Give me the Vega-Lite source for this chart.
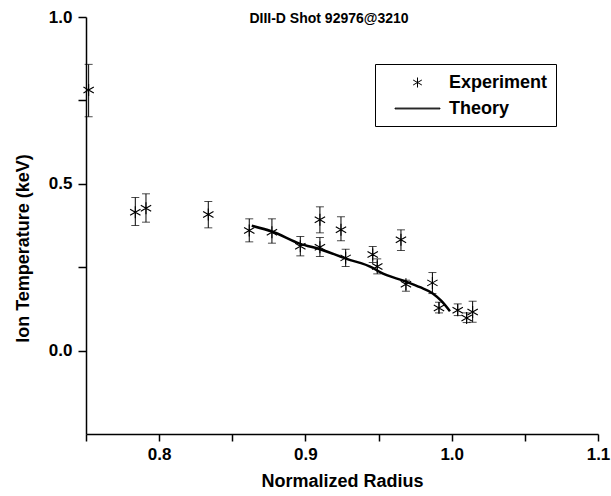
{
  "$schema": "https://vega.github.io/schema/vega-lite/v6.json",
  "width": 512,
  "height": 417,
  "autosize": "none",
  "padding": {"left": 86, "top": 17, "right": 13, "bottom": 62},
  "background": "white",
  "config": {
    "view": {"stroke": null},
    "font": "Liberation Sans",
    "axis": {
      "domainColor": "black",
      "domainWidth": 1.5,
      "tickColor": "black",
      "tickWidth": 1.5,
      "grid": false,
      "labelColor": "black",
      "labelFont": "Liberation Sans",
      "labelFontWeight": "bold",
      "labelFontSize": 17,
      "titleColor": "black",
      "titleFont": "Liberation Sans",
      "titleFontWeight": "bold",
      "titleFontSize": 18
    }
  },
  "title": {
    "text": "DIII-D Shot 92976@3210",
    "font": "Liberation Sans",
    "fontSize": 14,
    "fontWeight": "bold",
    "color": "black",
    "anchor": "middle",
    "offset": -18,
    "dx": -13
  },
  "datasets": {
    "exp": [
      {"r": 0.7518, "t": 0.781, "lo": 0.701, "hi": 0.858},
      {"r": 0.7837, "t": 0.415, "lo": 0.375, "hi": 0.459},
      {"r": 0.7910, "t": 0.427, "lo": 0.385, "hi": 0.470},
      {"r": 0.8336, "t": 0.408, "lo": 0.368, "hi": 0.447},
      {"r": 0.8616, "t": 0.360, "lo": 0.326, "hi": 0.395},
      {"r": 0.8771, "t": 0.355, "lo": 0.322, "hi": 0.395},
      {"r": 0.8965, "t": 0.313, "lo": 0.284, "hi": 0.342},
      {"r": 0.9099, "t": 0.392, "lo": 0.353, "hi": 0.431},
      {"r": 0.9099, "t": 0.310, "lo": 0.282, "hi": 0.339},
      {"r": 0.9243, "t": 0.362, "lo": 0.329, "hi": 0.401},
      {"r": 0.9275, "t": 0.278, "lo": 0.252, "hi": 0.304},
      {"r": 0.9460, "t": 0.288, "lo": 0.264, "hi": 0.312},
      {"r": 0.9491, "t": 0.252, "lo": 0.230, "hi": 0.275},
      {"r": 0.9653, "t": 0.332, "lo": 0.300, "hi": 0.362},
      {"r": 0.9687, "t": 0.199, "lo": 0.178, "hi": 0.211},
      {"r": 0.9868, "t": 0.203, "lo": 0.171, "hi": 0.234},
      {"r": 0.9913, "t": 0.128, "lo": 0.113, "hi": 0.145},
      {"r": 1.0041, "t": 0.121, "lo": 0.105, "hi": 0.140},
      {"r": 1.0102, "t": 0.098, "lo": 0.084, "hi": 0.113},
      {"r": 1.0143, "t": 0.116, "lo": 0.085, "hi": 0.148}
    ],
    "theory": [
      {"r": 0.8633, "t": 0.374},
      {"r": 0.8771, "t": 0.357},
      {"r": 0.8965, "t": 0.320},
      {"r": 0.9099, "t": 0.304},
      {"r": 0.9282, "t": 0.275},
      {"r": 0.9460, "t": 0.248},
      {"r": 0.9510, "t": 0.235},
      {"r": 0.9687, "t": 0.207},
      {"r": 0.9783, "t": 0.190},
      {"r": 0.9868, "t": 0.172},
      {"r": 0.9931, "t": 0.148},
      {"r": 0.9988, "t": 0.118}
    ]
  },
  "encoding": {
    "x": {
      "field": "r",
      "type": "quantitative",
      "scale": {"domain": [0.75, 1.1], "nice": false, "zero": false},
      "axis": {
        "title": "Normalized Radius",
        "values": [0.75, 0.8, 0.85, 0.9, 0.95, 1.0, 1.05, 1.1],
        "labelExpr": "round(datum.value*100) % 10 === 0 && datum.value > 0.76 ? format(datum.value, '.1f') : ''",
        "tickSize": 7,
        "labelPadding": 5,
        "titlePadding": 10,
        "labelFlush": false,
        "labelOverlap": false
      }
    },
    "y": {
      "field": "t",
      "type": "quantitative",
      "scale": {"domain": [-0.25, 1.0], "nice": false, "zero": false},
      "axis": {
        "title": "Ion Temperature (keV)",
        "values": [0, 0.25, 0.5, 0.75, 1.0],
        "labelExpr": "round(datum.value*100) % 50 === 0 ? format(datum.value, '.1f') : ''",
        "tickSize": 8,
        "labelPadding": 6,
        "titleX": -63,
        "titleY": 231,
        "titleAngle": -90,
        "titleAlign": "center",
        "titleBaseline": "middle",
        "labelFlush": false,
        "labelOverlap": false
      }
    }
  },
  "layer": [
    {
      "data": {"name": "exp"},
      "mark": {"type": "rule", "color": "black", "strokeWidth": 1},
      "encoding": {"y": {"field": "lo", "type": "quantitative"}, "y2": {"field": "hi"}}
    },
    {
      "data": {"name": "exp"},
      "mark": {"type": "tick", "orient": "horizontal", "color": "black", "size": 8, "thickness": 1},
      "encoding": {"y": {"field": "lo", "type": "quantitative"}}
    },
    {
      "data": {"name": "exp"},
      "mark": {"type": "tick", "orient": "horizontal", "color": "black", "size": 8, "thickness": 1},
      "encoding": {"y": {"field": "hi", "type": "quantitative"}}
    },
    {
      "data": {"name": "theory"},
      "mark": {"type": "line", "color": "black", "strokeWidth": 2.5, "interpolate": "monotone"},
      "encoding": {}
    },
    {
      "data": {"name": "exp"},
      "mark": {"type": "point", "filled": false, "stroke": "black", "strokeWidth": 1.1, "size": 576, "opacity": 1},
      "encoding": {
        "shape": {
          "datum": "Experiment",
          "type": "nominal",
          "scale": {
            "domain": ["Experiment", "Theory"],
            "range": [
              "M0,-0.5L0,0.5M-0.433,-0.25L0.433,0.25M-0.433,0.25L0.433,-0.25",
              "M-2.25,-0.04L2.25,-0.04L2.25,0.04L-2.25,0.04Z"
            ]
          },
          "legend": {
            "title": null,
            "orient": "none",
            "legendX": 289,
            "legendY": 47,
            "padding": 8,
            "strokeColor": "black",
            "fillColor": "white",
            "symbolSize": 400,
            "symbolOffset": 24,
            "symbolStrokeColor": "black",
            "symbolFillColor": "black",
            "symbolStrokeWidth": 1,
            "labelOffset": 21,
            "labelFont": "Liberation Sans",
            "labelFontSize": 18,
            "labelFontWeight": "bold",
            "labelColor": "black",
            "rowPadding": 6
          }
        }
      }
    }
  ]
}
